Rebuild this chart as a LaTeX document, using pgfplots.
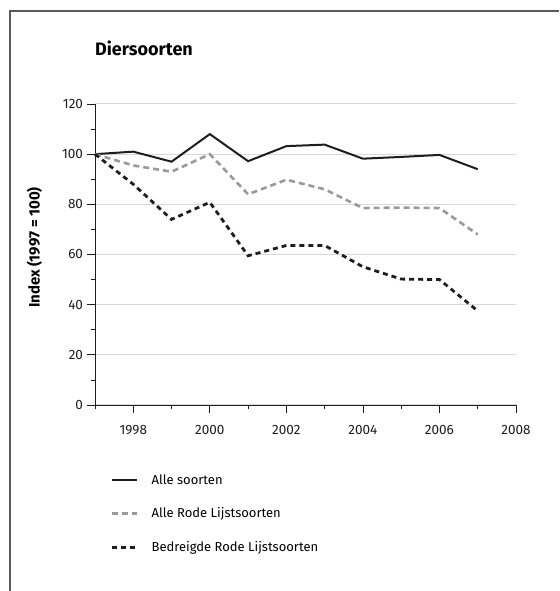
\documentclass[border=0pt]{standalone}
\usepackage{fontspec}
\setmainfont{Fira Sans}
\usepackage{pgfplots}
\pgfplotsset{compat=1.18}
\definecolor{lgray}{HTML}{9A9A9A}
\definecolor{dk}{HTML}{1E1E1E}
\begin{document}
\begin{tikzpicture}[x=1pt,y=1pt]
\useasboundingbox (0,0) rectangle (559,591);
\draw[line width=2pt, color=black!65] (10,0) -- (10,580) -- (559,580);
\node[anchor=base west, inner sep=0pt, font=\bfseries\fontsize{18}{20}\selectfont] at (95,535.3) {Diersoorten};
\begin{axis}[
  at={(95pt,186pt)}, anchor=south west,
  width=421pt, height=301pt, scale only axis,
  xmin=1997, xmax=2008, ymin=0, ymax=120,
  axis lines*=left,
  axis line style={line width=0.9pt, dk},
  xtick={1998,2000,...,2008}, minor xtick={1997,1999,...,2007},
  ytick={0,20,...,120}, minor ytick={10,30,...,110},
  tick align=outside, major tick length=8.5pt, minor tick length=4.5pt,
  every tick/.style={dk, line width=0.8pt},
  ymajorgrids, major grid style={draw=black!15, line width=1pt},
  /pgf/number format/assume math mode=true,
  xticklabel style={/pgf/number format/1000 sep={}, yshift=-8pt},
  tick label style={font=\fontsize{13.5}{15}\selectfont, text=dk},
  ylabel={Index (1997 = 100)},
  ylabel style={at={(axis description cs:-0.1437,0.523)}, anchor=center, font=\bfseries\fontsize{15}{17}\selectfont},
  legend cell align=left,
  legend image code/.code={\draw[#1] (0pt,0pt) -- (25pt,0pt); \path (36pt,0pt);},
  legend style={draw=none, fill=none, at={(axis description cs:0.03,-0.2166)}, anchor=north west,
    font=\fontsize{13}{15}\selectfont, row sep=18pt},
  clip=false,
]
\addplot[dk, line width=2pt] coordinates {
(1997,100) (1998,101) (1999,97) (2000,108) (2001,97.2) (2002,103.2) (2003,103.8) (2004,98.2) (2005,98.9) (2006,99.7) (2007,94)};
\addlegendentry{Alle soorten}
\addplot[lgray, line width=2.6pt, dash pattern=on 6pt off 4pt] coordinates {
(1997,100) (1998,95.5) (1999,93) (2000,100) (2001,84) (2002,89.8) (2003,86) (2004,78.5) (2005,78.7) (2006,78.5) (2007,68)};
\addlegendentry{Alle Rode Lijstsoorten}
\addplot[dk, line width=2.8pt, dash pattern=on 5pt off 4pt] coordinates {
(1997,100) (1998,88) (1999,74) (2000,80.8) (2001,59.5) (2002,63.6) (2003,63.6) (2004,55.1) (2005,50.2) (2006,50) (2007,37.5)};
\addlegendentry{Bedreigde Rode Lijstsoorten}
\end{axis}
\end{tikzpicture}
\end{document}
